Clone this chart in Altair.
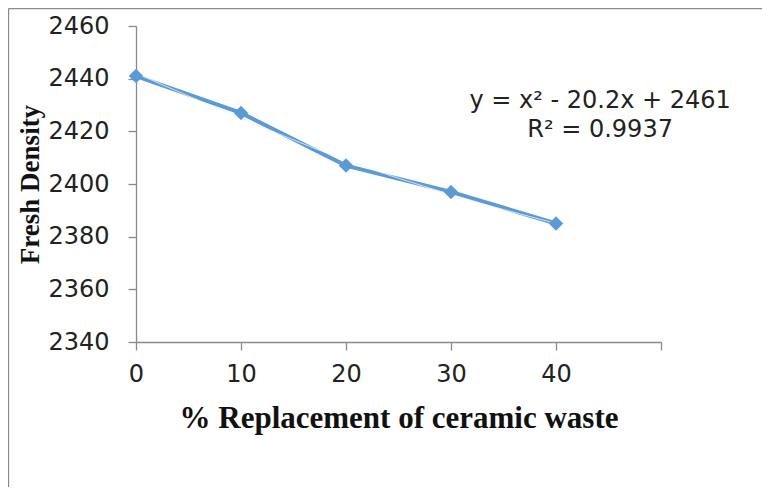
import altair as alt
import pandas as pd

# ---- data ----
replacement = [0, 10, 20, 30, 40]
fresh_density = [2441, 2427, 2407, 2397, 2385]
trend_density = [2442, 2425, 2409, 2396, 2385]
y_ticks = [2340, 2360, 2380, 2400, 2420, 2440, 2460]
x_ticks = [0, 10, 20, 30, 40, 50]
eq_lines = ["y = x² - 20.2x + 2461", "R² = 0.9937"]

# annotation anchor (data coordinates)
eq_x = [44.2, 44.2]
eq_y = [2431.6, 2420.6]

df = pd.DataFrame({"x": replacement, "y": fresh_density})
tr = pd.DataFrame({"x": replacement, "y": trend_density})
ann = pd.DataFrame({"x": eq_x, "y": eq_y, "t": eq_lines})

BLUE = "#5B9BD5"
GRAY = "#8a8a8a"

xs = alt.Scale(domain=[0, 50], nice=False, zero=False)
ys = alt.Scale(domain=[2340, 2460], nice=False, zero=False)

x_axis = alt.Axis(
    values=x_ticks, labelExpr="datum.value == 50 ? '' : datum.label",
    title="% Replacement of ceramic waste", titleFont="Liberation Serif",
    titleFontWeight="bold", titleFontSize=31, titleColor="#111",
    titleBaseline="middle", titleY=76, labelFlush=False, labelOverlap=False,
    labelPadding=12, labelFontSize=24, labelFont="DejaVu Sans",
    labelColor="#222", grid=False, tickSize=8,
)
y_axis = alt.Axis(
    values=y_ticks, format="d", title="Fresh Density", titleFont="Liberation Serif",
    titleFontWeight="bold", titleFontSize=27, titleColor="#111",
    titleAngle=270, titleBaseline="middle", titleAlign="center",
    titleX=-106, titleY=158, labelPadding=19, labelFontSize=24,
    labelFont="DejaVu Sans", labelColor="#222", grid=False, tickSize=8,
    labelOverlap=False, labelFlush=False,
)

base = alt.Chart(df).encode(
    x=alt.X("x:Q", scale=xs, axis=x_axis),
    y=alt.Y("y:Q", scale=ys, axis=y_axis),
)

line = base.mark_line(color=BLUE, strokeWidth=4)
pts = base.mark_point(shape="diamond", filled=True, color=BLUE, size=210, opacity=1)

trend = alt.Chart(tr).mark_line(
    color="#eef4fb", strokeWidth=1.0, interpolate="monotone", opacity=0.8
).encode(x=alt.X("x:Q", scale=xs), y=alt.Y("y:Q", scale=ys))

eq = alt.Chart(ann).mark_text(
    font="DejaVu Sans", fontSize=24, color="#222", align="center", baseline="middle"
).encode(x=alt.X("x:Q", scale=xs), y=alt.Y("y:Q", scale=ys), text="t:N")

frame_df = pd.DataFrame({"k": [0]})
top_rule = alt.Chart(frame_df).mark_rule(color=GRAY, strokeWidth=1.3).encode(
    x=alt.value(-127.5), x2=alt.value(700), y=alt.value(-17.4)
)
left_rule = alt.Chart(frame_df).mark_rule(color=GRAY, strokeWidth=1.3).encode(
    x=alt.value(-127.5), y=alt.value(-17.4), y2=alt.value(500)
)

chart = alt.layer(top_rule, left_rule, line, trend, pts, eq).properties(
    width=525, height=316,
    autosize=alt.AutoSizeParams(type="none"),
    padding={"left": 128, "top": 18, "right": 101, "bottom": 145},
).configure_view(stroke=None).configure_axis(
    domainColor=GRAY, tickColor=GRAY, domainWidth=1.3, tickWidth=1.3
)

chart.save("out.html", embed_options={"renderer": "svg", "actions": False})
